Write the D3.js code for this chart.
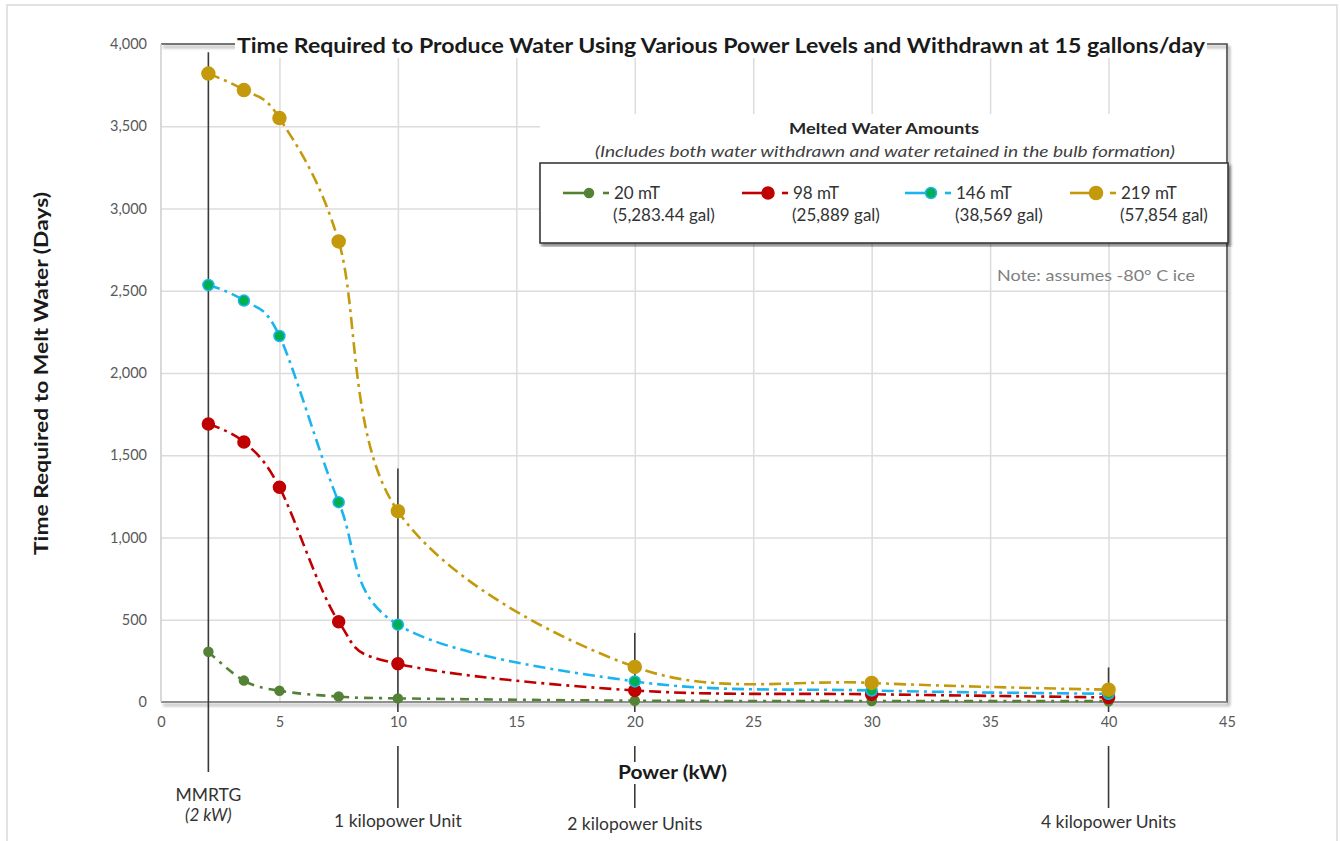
<!DOCTYPE html>
<html>
<head>
<meta charset="utf-8">
<script src="https://cdn.jsdelivr.net/npm/d3@7"></script>
<style>
  body { margin: 0; background: #fff; }
  text { font-family: Lato, "Open Sans", sans-serif; }
</style>
</head>
<body>
<div id="chart"></div>
<script>
// data
const powerKW = [2, 3.5, 5, 7.5, 10, 20, 30, 40];
const days20 = [305, 130, 68, 33, 22, 8, 6, 5];
const days98 = [1690, 1580, 1305, 488, 232, 70, 47, 28];
const days146 = [2535, 2440, 2225, 1215, 470, 125, 70, 50];
const days219 = [3820, 3720, 3550, 2800, 1160, 213, 116, 75];

const seriesNames = ['20 mT', '98 mT', '146 mT', '219 mT'];
const seriesGallons = ['(5,283.44 gal)', '(25,889 gal)', '(38,569 gal)', '(57,854 gal)'];
const xTicks = [0, 5, 10, 15, 20, 25, 30, 35, 40, 45];
const yTicks = [0, 500, 1000, 1500, 2000, 2500, 3000, 3500, 4000];

// reference lines for power sources
const refPower = [2, 10, 20, 40];
const refTopDays = [3950, 1420, 420, 210];
const refLabels = ['MMRTG', '1 kilopower Unit', '2 kilopower Units', '4 kilopower Units'];

const width = 1341, height = 841;
const plot = { left: 161, right: 1227, top: 44, bottom: 702 };

const svg = d3.select('#chart').append('svg')
  .attr('width', width)
  .attr('height', height);

// the original text is rendered wide, so stretch to measured widths
function fit(sel, len) {
  return sel.attr('textLength', len).attr('lengthAdjust', 'spacingAndGlyphs');
}

const defs = svg.append('defs');
const shadow = defs.append('filter').attr('id', 'shadow')
  .attr('x', '-5%').attr('y', '-5%').attr('width', '110%').attr('height', '110%');
shadow.append('feDropShadow')
  .attr('dx', 2).attr('dy', 3).attr('stdDeviation', 1.5)
  .attr('flood-color', '#000').attr('flood-opacity', 0.45);

// faint outer border of the picture
svg.append('rect')
  .attr('x', 7).attr('y', 5).attr('width', 1330).attr('height', 845)
  .attr('fill', 'none').attr('stroke', '#d9d9d9').attr('stroke-width', 1.5);

const x = d3.scaleLinear().domain([0, 45]).range([plot.left, plot.right]);
const y = d3.scaleLinear().domain([0, 4000]).range([plot.bottom, plot.top]);

// gridlines
svg.append('g')
  .attr('transform', `translate(0,${plot.bottom})`)
  .call(d3.axisBottom(x).tickValues(xTicks.slice(1, -1)).tickSize(-(plot.bottom - plot.top)).tickFormat(''))
  .call(g => g.select('.domain').remove())
  .call(g => g.selectAll('line').attr('stroke', '#dcdcdc').attr('stroke-width', 1.5));

svg.append('g')
  .attr('transform', `translate(${plot.left},0)`)
  .call(d3.axisLeft(y).tickValues(yTicks.slice(1, -1)).tickSize(-(plot.right - plot.left)).tickFormat(''))
  .call(g => g.select('.domain').remove())
  .call(g => g.selectAll('line').attr('stroke', '#dcdcdc').attr('stroke-width', 1.5));

// white area behind legend title
svg.append('rect')
  .attr('x', 540).attr('y', 114).attr('width', plot.right - 541).attr('height', 50)
  .attr('fill', '#fff');

// plot frame
svg.append('path')
  .attr('d', `M${plot.left},${plot.top}H${plot.right}V${plot.bottom}H${plot.left}`)
  .attr('fill', 'none').attr('stroke', '#4a4a4a').attr('stroke-width', 1.6)
  .attr('filter', 'url(#shadow)');
svg.append('line')
  .attr('x1', plot.left).attr('x2', plot.right).attr('y1', plot.bottom).attr('y2', plot.bottom)
  .attr('stroke', '#9a9a9a').attr('stroke-width', 1.6);
svg.append('line')
  .attr('x1', plot.left).attr('x2', plot.left).attr('y1', plot.top).attr('y2', plot.bottom)
  .attr('stroke', '#d0d0d0').attr('stroke-width', 1.6);

// tick labels
svg.append('g')
  .attr('transform', `translate(0,${plot.bottom})`)
  .call(d3.axisBottom(x).tickValues(xTicks).tickSize(0).tickPadding(15))
  .call(g => g.select('.domain').remove())
  .call(g => g.selectAll('text').attr('fill', '#595959').style('font-size', '14.5px'));

svg.append('g')
  .attr('transform', `translate(${plot.left},0)`)
  .call(d3.axisLeft(y).tickValues(yTicks).tickSize(0).tickPadding(14).tickFormat(d3.format(',')))
  .call(g => g.select('.domain').remove())
  .call(g => g.selectAll('text').attr('fill', '#595959').style('font-size', '14.5px'));

// reference lines
const refG = svg.append('g').attr('stroke', '#3a3a3a').attr('stroke-width', 1.6);
refPower.forEach((p, i) => {
  const px = x(p);
  if (i === 0) {
    refG.append('line').attr('x1', px).attr('x2', px).attr('y1', y(refTopDays[i])).attr('y2', 772);
  } else {
    refG.append('line').attr('x1', px).attr('x2', px).attr('y1', y(refTopDays[i])).attr('y2', 712);
    refG.append('line').attr('x1', px).attr('x2', px).attr('y1', 746).attr('y2', 808);
  }
});

// axis titles
const powerLabel = svg.append('g');
powerLabel.append('rect')
  .attr('x', 614).attr('y', 762).attr('width', 118).attr('height', 22).attr('fill', '#fff');
fit(powerLabel.append('text')
  .attr('x', 618).attr('y', 779)
  .style('font-size', '18px').style('font-weight', 'bold').attr('fill', '#1a1a1a')
  .text('Power (kW)'), 109);

fit(svg.append('text')
  .attr('transform', 'rotate(-90)')
  .attr('x', -555).attr('y', 48)
  .style('font-size', '18px').style('font-weight', 'bold').attr('fill', '#1a1a1a')
  .text('Time Required to Melt Water (Days)'), 363);

// reference labels
const refLabelY = [801, 827, 830, 828];
refPower.forEach((p, i) => {
  svg.append('text')
    .attr('x', x(p)).attr('y', refLabelY[i]).attr('text-anchor', 'middle')
    .style('font-size', '17.5px').attr('fill', '#333')
    .text(refLabels[i]);
});
svg.append('text')
  .attr('x', x(2)).attr('y', 821).attr('text-anchor', 'middle')
  .style('font-size', '17px').style('font-style', 'italic').attr('fill', '#333')
  .text('(2 kW)');

// series
const allSeries = [days20, days98, days146, days219];
const colors = ['#548235', '#c00000', '#1cb4ef', '#c49a0c'];
const markerFill = ['#548235', '#c00000', '#00b050', '#c49a0c'];
const markerR = [4.5, 6, 5.5, 6.5];
const dashes = ['9,6,3,6', '12,5,3,5', '12,5,3,5', '12,5,3,5'];

const line = d3.line()
  .x(d => x(d[0]))
  .y(d => y(d[1]))
  .curve(d3.curveCardinal.tension(0));

allSeries.forEach((vals, i) => {
  const pts = powerKW.map((p, j) => [p, vals[j]]);
  const g = svg.append('g');
  g.append('path')
    .datum(pts)
    .attr('d', line)
    .attr('fill', 'none')
    .attr('stroke', colors[i])
    .attr('stroke-width', 2.6)
    .attr('stroke-dasharray', dashes[i]);
  g.selectAll('circle')
    .data(pts)
    .enter()
    .append('circle')
    .attr('cx', d => x(d[0]))
    .attr('cy', d => y(d[1]))
    .attr('r', markerR[i])
    .attr('fill', markerFill[i])
    .attr('stroke', colors[i])
    .attr('stroke-width', 1.5);
});

// title with white backing over the frame
const titleText = 'Time Required to Produce Water Using Various Power Levels and Withdrawn at 15 gallons/day';
svg.append('rect')
  .attr('x', 235).attr('y', 30).attr('width', 972).attr('height', 28).attr('fill', '#fff');
fit(svg.append('text')
  .attr('x', 237).attr('y', 53)
  .style('font-size', '21px').style('font-weight', 'bold').attr('fill', '#1a1a1a')
  .text(titleText), 968);

// legend
fit(svg.append('text')
  .attr('x', 789).attr('y', 134)
  .style('font-size', '16px').style('font-weight', 'bold').attr('fill', '#262626')
  .text('Melted Water Amounts'), 190);
fit(svg.append('text')
  .attr('x', 595).attr('y', 157)
  .style('font-size', '16px').style('font-style', 'italic').attr('fill', '#404040')
  .text('(Includes both water withdrawn and water retained in the bulb formation)'), 580);

svg.append('rect')
  .attr('x', 540).attr('y', 163).attr('width', 688).attr('height', 80)
  .attr('fill', '#fff').attr('stroke', '#3a3a3a').attr('stroke-width', 1.6)
  .attr('filter', 'url(#shadow)');

const legendX = [563, 742, 905, 1070];
seriesNames.forEach((name, i) => {
  const lx = legendX[i];
  const g = svg.append('g').attr('transform', `translate(${lx},193)`);
  g.append('line').attr('x1', 0).attr('x2', 26).attr('y1', 0).attr('y2', 0)
    .attr('stroke', colors[i]).attr('stroke-width', 2.6);
  g.append('circle').attr('cx', 26).attr('cy', 0).attr('r', markerR[i])
    .attr('fill', markerFill[i]).attr('stroke', colors[i]).attr('stroke-width', 1.5);
  g.append('line').attr('x1', 40).attr('x2', 46).attr('y1', 0).attr('y2', 0)
    .attr('stroke', colors[i]).attr('stroke-width', 2.6);
  g.append('text').attr('x', 51).attr('y', 6)
    .style('font-size', '17px').attr('fill', '#333').text(name);
  g.append('text').attr('x', 50).attr('y', 28)
    .style('font-size', '17px').attr('fill', '#333').text(seriesGallons[i]);
});

fit(svg.append('text')
  .attr('x', 997).attr('y', 281)
  .style('font-size', '16px').attr('fill', '#7f7f7f')
  .text('Note: assumes -80° C ice'), 198);
</script>
</body>
</html>
